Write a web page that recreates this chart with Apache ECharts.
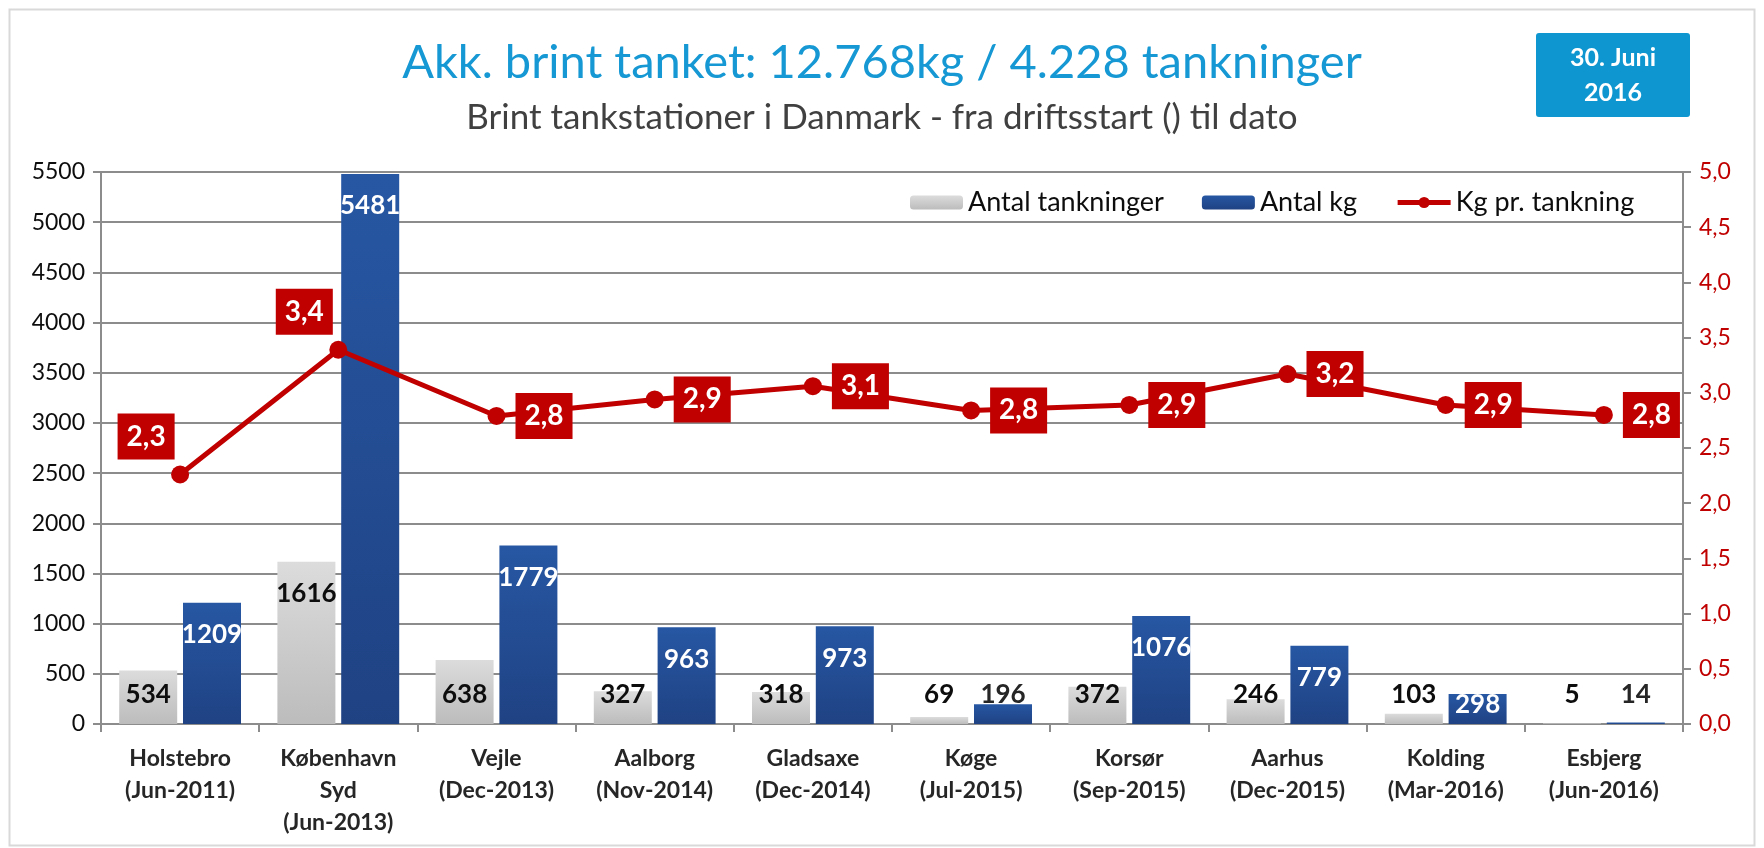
<!DOCTYPE html>
<html><head><meta charset="utf-8">
<script src="https://cdn.jsdelivr.net/npm/echarts/dist/echarts.min.js"></script>
<style>html,body{margin:0;padding:0;background:#fff}#c{width:1764px;height:848px}</style>
</head><body><div id="c"></div>
<script>
const categories = ['Holstebro\n(Jun-2011)','København\nSyd\n(Jun-2013)','Vejle\n(Dec-2013)','Aalborg\n(Nov-2014)','Gladsaxe\n(Dec-2014)','Køge\n(Jul-2015)','Korsør\n(Sep-2015)','Aarhus\n(Dec-2015)','Kolding\n(Mar-2016)','Esbjerg\n(Jun-2016)'];
const antalTankninger = [534,1616,638,327,318,69,372,246,103,5];
const antalKg = [1209,5481,1779,963,973,196,1076,779,298,14];
const kgPrTankning = [2.26,3.39,2.79,2.94,3.06,2.84,2.89,3.17,2.89,2.80];
const seriesNames = ['Antal tankninger','Antal kg','Kg pr. tankning'];
const titleText = 'Akk. brint tanket: 12.768kg / 4.228 tankninger';
const subtitleText = 'Brint tankstationer i Danmark - fra driftsstart () til dato';
const dateText = '30. Juni\n2016';

const FONT = 'Lato, "Open Sans", sans-serif';
const RED = '#C00000';
const GRID = '#8c8c8c';
const comma = v => Number(v).toFixed(1).replace('.', ',');

const grayData = antalTankninger.map(v => ({
  value: v,
  label: v > 1000
    ? {position: 'insideTop', distance: 19}
    : {position: 'insideBottom', distance: 16}
}));
const blueData = antalKg.map(v => ({
  value: v,
  label: v > 500
    ? {position: 'insideTop', distance: 19, color: '#fff'}
    : v > 250
      ? {position: 'insideBottom', distance: 6, color: '#fff'}
      : {position: 'insideBottom', distance: 16, color: '#262626'}
}));
const lineData = kgPrTankning.map((v, i) => ({
  value: v,
  label: i < 2
    ? {position: 'top', distance: 6, offset: [-34, 0]}
    : {position: 'right', distance: 10}
}));

const chart = echarts.init(document.getElementById('c'), null, {renderer: 'canvas'});
chart.setOption({
  backgroundColor: '#fff',
  animation: false,
  textStyle: {fontFamily: FONT},
  title: [
    {text: titleText, left: 'center', top: 34, textStyle: {fontFamily: FONT, fontSize: 47, fontWeight: 'normal', color: '#1598D3'}},
    {text: subtitleText, left: 'center', top: 95, textStyle: {fontFamily: FONT, fontSize: 35, fontWeight: 'normal', color: '#404040'}}
  ],
  graphic: [
    {type: 'rect', left: 7, top: 7, shape: {width: 1745, height: 836}, style: {fill: 'none', stroke: '#d9d9d9', lineWidth: 2}, silent: true},
    {type: 'rect', left: 1536, top: 33, shape: {width: 154, height: 84, r: 3}, style: {fill: '#0E96D0'}, silent: true},
    {type: 'text', style: {text: dateText, x: 1613, y: 75, textAlign: 'center', textVerticalAlign: 'middle', font: 'bold 25px ' + FONT, fill: '#fff', lineHeight: 35}, silent: true}
  ],
  legend: {
    left: 905, top: 184,
    itemWidth: 53, itemHeight: 14, itemGap: 38,
    textStyle: {fontFamily: FONT, fontSize: 27, color: '#0d0d0d'},
    data: [seriesNames[0], seriesNames[1], {name: seriesNames[2], lineStyle: {width: 5}, itemStyle: {color: RED}}]
  },
  grid: {left: 101, right: 81, top: 172, bottom: 124},
  xAxis: {
    type: 'category', data: categories,
    axisLine: {lineStyle: {color: GRID, width: 2}},
    axisTick: {show: true, length: 8, lineStyle: {color: GRID, width: 2}},
    axisLabel: {interval: 0, fontFamily: FONT, fontSize: 23, fontWeight: 'bold', color: '#262626', lineHeight: 32, margin: 19}
  },
  yAxis: [
    {type: 'value', min: 0, max: 5500, interval: 500,
     axisLine: {show: true, lineStyle: {color: GRID, width: 2}},
     axisTick: {show: true, length: 8, lineStyle: {color: GRID, width: 2}},
     axisLabel: {fontFamily: FONT, fontSize: 23, color: '#0d0d0d', margin: 16, formatter: v => String(v)},
     splitLine: {lineStyle: {color: GRID, width: 2}}},
    {type: 'value', min: 0, max: 5, interval: 0.5, position: 'right',
     axisLine: {show: true, lineStyle: {color: GRID, width: 2}},
     axisTick: {show: true, length: 8, lineStyle: {color: GRID, width: 2}},
     axisLabel: {fontFamily: FONT, fontSize: 23, color: RED, margin: 16, formatter: comma},
     splitLine: {show: false}}
  ],
  series: [
    {name: seriesNames[0], type: 'bar', yAxisIndex: 0, barWidth: 58, barGap: '10%',
     itemStyle: {color: new echarts.graphic.LinearGradient(0, 0, 0, 1, [{offset: 0, color: '#dcdcdc'}, {offset: 1, color: '#bcbcbc'}])},
     label: {show: true, fontFamily: FONT, fontSize: 26, fontWeight: 'bold', color: '#0d0d0d'},
     data: grayData},
    {name: seriesNames[1], type: 'bar', yAxisIndex: 0, barWidth: 58, barGap: '10%',
     itemStyle: {color: new echarts.graphic.LinearGradient(0, 0, 0, 1, [{offset: 0, color: '#2757A3'}, {offset: 1, color: '#1F4283'}])},
     label: {show: true, fontFamily: FONT, fontSize: 26, fontWeight: 'bold', color: '#fff'},
     data: blueData},
    {name: seriesNames[2], type: 'line', yAxisIndex: 1, z: 5,
     symbol: 'circle', symbolSize: 18,
     lineStyle: {color: RED, width: 5}, itemStyle: {color: RED},
     label: {show: true, formatter: p => comma(p.value), fontFamily: FONT, fontSize: 28, fontWeight: 'bold', color: '#fff',
             backgroundColor: RED, padding: [9, 9], lineHeight: 28},
     data: lineData}
  ]
});
</script>
</body></html>
